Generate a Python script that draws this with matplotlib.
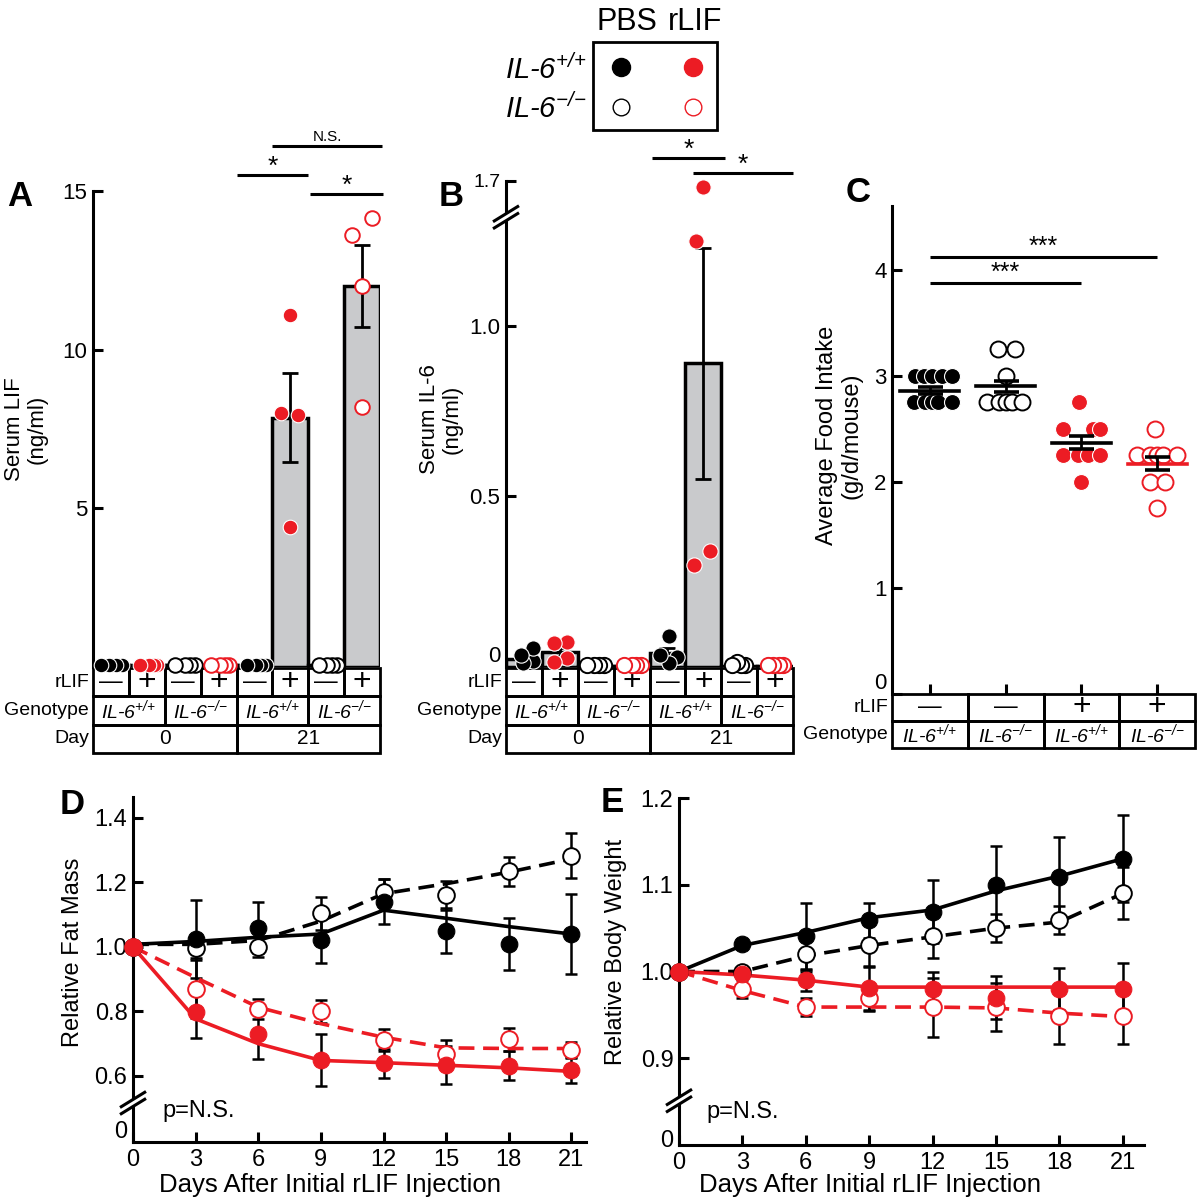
import numpy as np
import matplotlib.pyplot as plt
from matplotlib.patches import Rectangle, Polygon

plt.rcParams['font.family'] = ['Liberation Sans', 'DejaVu Sans']
plt.rcParams['mathtext.fontset'] = 'custom'
plt.rcParams['mathtext.rm'] = 'Liberation Sans:italic'
plt.rcParams['mathtext.it'] = 'Liberation Sans:italic'
plt.rcParams['mathtext.bf'] = 'Liberation Sans:bold'

W, H = 1197, 1200
RED = '#ec1c24'
GRAY = '#c9cacc'
LW = 2.2

# ================== DATA ==================
group_kind = ['wt_pbs', 'wt_lif', 'ko_pbs', 'ko_lif'] * 2
rlif_sign = ['-', '+', '-', '+', '-', '+', '-', '+']
geno_ab = ['+/+', '-/-', '+/+', '-/-']
day_ab = ['0', '21']

# A: serum LIF (ng/ml), 8 groups
a_vals = [[0.06] * 4, [0.06] * 4, [0.06] * 4, [0.06] * 4, [0.06] * 4,
          [11.1, 8.0, 7.95, 4.4], [0.06] * 4, [14.15, 13.6, 12.0, 8.2]]
a_jit = [[-0.28, -0.05, 0.14, 0.31], [-0.19, 0.05, 0.19, 0.28], [-0.22, 0.07, 0.21, 0.33],
         [-0.2, 0.03, 0.17, 0.29], [-0.2, 0.03, 0.17, 0.31], [0.0, -0.25, 0.22, 0.0],
         [-0.2, 0.03, 0.17, 0.31], [0.27, -0.27, 0.0, 0.0]]
a_mean = [0.06, 0.06, 0.06, 0.06, 0.06, 7.85, 0.06, 12.0]
a_sem = [0, 0, 0, 0, 0, 1.4, 0, 1.3]

# B: serum IL-6 (ng/ml), 8 groups (axis broken above 1.3)
b_vals = [[0.035, 0.056, 0.018, 0.012], [0.07, 0.073, 0.015, 0.026], [0.006] * 4, [0.006] * 4,
          [0.09, 0.035, 0.03, 0.012], [1.64, 1.25, 0.30, 0.34], [0.006, 0.015, 0.006, 0.006],
          [0.006] * 4]
b_jit = [[-0.07, 0.26, 0.26, -0.03], [-0.16, 0.21, -0.16, 0.21], [-0.25, -0.06, 0.08, 0.22],
         [-0.2, 0.0, 0.12, 0.26], [0.03, -0.2, 0.27, 0.05], [0.0, -0.2, -0.25, 0.2],
         [-0.2, -0.05, 0.04, 0.17], [-0.2, -0.05, 0.1, 0.22]]
b_mean = [0.022, 0.043, 0.003, 0.003, 0.04, 0.89, 0.003, 0.003]
b_sem = [0.01, 0.012, 0, 0, 0.017, 0.34, 0, 0]
B_BREAK, B_SQUEEZE = 1.3, 0.3125

# C: average food intake (g/d/mouse), 4 groups
c_kind = ['wt_pbs', 'ko_pbs', 'wt_lif', 'ko_lif']
c_rlif = ['-', '-', '+', '+']
c_geno = ['+/+', '-/-', '+/+', '-/-']
c_vals = [[3.0] * 5 + [2.75] * 5,
          [3.25, 3.25, 3.0] + [2.75] * 5,
          [2.75, 2.5, 2.5, 2.5, 2.25, 2.25, 2.25, 2.25, 2.0],
          [2.5, 2.25, 2.25, 2.25, 2.25, 2.25, 2.0, 2.0, 1.75]]
c_jit = [[-0.2, -0.08, 0.03, 0.16, 0.29, -0.21, -0.06, 0.03, 0.11, 0.29],
         [-0.1, 0.13, 0.01, -0.25, -0.09, 0.0, 0.08, 0.21],
         [-0.03, -0.24, 0.15, 0.24, -0.24, -0.04, 0.09, 0.24, 0.0],
         [-0.03, -0.27, -0.09, 0.0, 0.08, 0.26, -0.09, 0.11, 0.0]]
c_mean = [2.86, 2.90, 2.37, 2.17]
c_sem = [0.03, 0.05, 0.06, 0.06]

# D / E: time course
days = [0, 3, 6, 9, 12, 15, 18, 21]

d_wt_pbs = [1.0, 1.025, 1.06, 1.02, 1.14, 1.05, 1.01, 1.04]
d_wt_pbs_err = [0, 0.12, 0.08, 0.07, 0.07, 0.07, 0.08, 0.125]
d_wt_pbs_fit = [1.008, 1.017, 1.03, 1.04, 1.114, 1.089, 1.063, 1.04]
d_ko_pbs = [1.0, 0.997, 1.0, 1.104, 1.17, 1.16, 1.234, 1.283]
d_ko_pbs_err = [0, 0.03, 0.03, 0.05, 0.04, 0.045, 0.045, 0.07]
d_ko_pbs_fit = [1.008, 1.008, 1.02, 1.08, 1.165, 1.196, 1.232, 1.273]
d_wt_lif = [1.0, 0.798, 0.731, 0.649, 0.639, 0.634, 0.631, 0.619]
d_wt_lif_err = [0, 0.08, 0.08, 0.08, 0.045, 0.06, 0.045, 0.04]
d_wt_lif_fit = [1.0, 0.777, 0.70, 0.648, 0.641, 0.633, 0.625, 0.614]
d_ko_lif = [1.0, 0.869, 0.808, 0.80, 0.711, 0.667, 0.713, 0.68]
d_ko_lif_err = [0, 0.09, 0.03, 0.035, 0.035, 0.045, 0.035, 0.025]
d_ko_lif_fit = [1.0, 0.905, 0.813, 0.762, 0.72, 0.687, 0.685, 0.685]

e_wt_pbs = [1.0, 1.032, 1.041, 1.059, 1.069, 1.10, 1.109, 1.13]
e_wt_pbs_err = [0, 0.006, 0.038, 0.02, 0.036, 0.045, 0.046, 0.05]
e_wt_pbs_fit = [1.0, 1.03, 1.045, 1.062, 1.071, 1.093, 1.11, 1.13]
e_ko_pbs = [1.0, 1.0, 1.02, 1.03, 1.041, 1.05, 1.059, 1.09]
e_ko_pbs_err = [0, 0.005, 0.02, 0.025, 0.025, 0.016, 0.016, 0.03]
e_ko_pbs_fit = [1.0, 1.0, 1.018, 1.03, 1.04, 1.05, 1.057, 1.09]
e_wt_lif = [1.0, 0.997, 0.99, 0.981, 0.98, 0.97, 0.98, 0.98]
e_wt_lif_err = [0, 0.004, 0.012, 0.025, 0.02, 0.025, 0.024, 0.03]
e_wt_lif_fit = [1.0, 0.996, 0.99, 0.982, 0.982, 0.982, 0.982, 0.982]
e_ko_lif = [1.0, 0.98, 0.959, 0.97, 0.959, 0.959, 0.949, 0.949]
e_ko_lif_err = [0, 0.01, 0.01, 0.015, 0.034, 0.028, 0.033, 0.033]
e_ko_lif_fit = [1.0, 0.978, 0.959, 0.959, 0.959, 0.958, 0.952, 0.948]


# ================== HELPERS ==================
fig = plt.figure(figsize=(W / 100, H / 100), dpi=100)


def px_axes(x0, x1, y0, y1):
    # pixel box, origin top-left
    return fig.add_axes([x0 / W, 1 - y1 / H, (x1 - x0) / W, (y1 - y0) / H])


def mstyle(kind, ms, white_edge=True):
    color = RED if kind.endswith('lif') else 'black'
    if kind.startswith('wt'):
        return dict(marker='o', ms=ms, mfc=color, mec='white' if white_edge else color, mew=0.8)
    return dict(marker='o', ms=ms, mfc='white', mec=color, mew=1.4)


def geno_label(g):
    return 'IL-6$^{{%s}/{%s}}$' % (g[0], g[2])


SIGN = {'-': '\u2014', '+': '+'}
SIGN_FS = {'-': 17, '+': 23}


def draw_table(box, n, rows, labels):
    x0, x1, y0, y1 = box
    t = px_axes(x0, x1, y0, y1)
    t.set_xlim(0, n)
    t.set_ylim(len(rows), 0)
    t.axis('off')
    for r, cells in enumerate(rows):
        for s, e, txt, kw in cells:
            t.add_patch(Rectangle((s, r), e - s, 1, fill=False, lw=2, ec='black', clip_on=False))
            t.text((s + e) / 2, r + 0.5, txt, ha='center', va='center', clip_on=False, **kw)
        t.text(-4 / (x1 - x0), 1 - (r + 0.5) / len(rows), labels[r], transform=t.transAxes,
               ha='right', va='center', fontsize=14)
    return t


def style_axis(ax):
    for s in ['top', 'right', 'bottom']:
        ax.spines[s].set_visible(False)
    ax.spines['left'].set_linewidth(LW)
    ax.tick_params(axis='y', direction='in', length=7, width=LW, labelsize=16, pad=4)
    ax.set_xticks([])
    ax.patch.set_alpha(0)


def sig(ax, x0, x1, y, label, fs=19, dy=0.0):
    ax.plot([x0, x1], [y, y], color='black', lw=LW, clip_on=False, solid_capstyle='butt')
    ax.text((x0 + x1) / 2, y + dy, label, ha='center', va='baseline', fontsize=fs, clip_on=False)


def bar_panel(ax, vals, jit, mean, sem, ms, tf=lambda v: np.asarray(v, float)):
    n = len(vals)
    x = np.arange(n) + 0.5
    ax.bar(x, tf(mean), width=1.0, color=GRAY, edgecolor='black', linewidth=2.5, zorder=1)
    for i in range(n):
        if sem[i] > 0:
            lo = tf(mean[i]) - tf(mean[i] - sem[i])
            hi = tf(mean[i] + sem[i]) - tf(mean[i])
            ax.errorbar(x[i], tf(mean[i]), yerr=[[lo], [hi]], fmt='none', ecolor='black',
                        elinewidth=2, capsize=6, capthick=2, zorder=3)
        order = np.argsort(jit[i])[::-1]
        xs = x[i] + np.asarray(jit[i])[order]
        ys = tf(np.asarray(vals[i])[order])
        ax.plot(xs, ys, ls='none', zorder=4, clip_on=False, **mstyle(group_kind[i], ms))
    ax.set_xlim(0, n)


# ================== TABLES (under the bar panels) ==================
rows_ab = [
    [(i, i + 1, SIGN[s], dict(fontsize=SIGN_FS[s])) for i, s in enumerate(rlif_sign)],
    [(2 * i, 2 * i + 2, geno_label(g), dict(fontsize=14, style='italic')) for i, g in enumerate(geno_ab)],
    [(4 * i, 4 * i + 4, d, dict(fontsize=15)) for i, d in enumerate(day_ab)],
]
draw_table((93, 380, 668, 753), 8, rows_ab, ['rLIF', 'Genotype', 'Day'])
draw_table((506, 793, 668, 753), 8, rows_ab, ['rLIF', 'Genotype', 'Day'])
rows_c = [
    [(i, i + 1, SIGN[s], dict(fontsize=SIGN_FS[s])) for i, s in enumerate(c_rlif)],
    [(i, i + 1, geno_label(g), dict(fontsize=14, style='italic')) for i, g in enumerate(c_geno)],
]
draw_table((892, 1195, 694, 748), 4, rows_c, ['rLIF', 'Genotype'])

# ================== A ==================
axA = px_axes(93, 380, 191, 667)
style_axis(axA)
bar_panel(axA, a_vals, a_jit, a_mean, a_sem, ms=10.5)
axA.set_ylim(0, 15)
axA.set_yticks([5, 10, 15])
axA.set_ylabel('Serum LIF\n(ng/ml)', fontsize=16, linespacing=1.1)
axA.yaxis.set_label_coords((48 - 93) / 287, 0.5)
sig(axA, 4.0, 6.0, 15.5, '*', dy=0.05)
sig(axA, 5.0, 8.05, 16.42, 'N.S.', fs=11, dy=0.15)
sig(axA, 6.05, 8.08, 14.9, '*', dy=0.05)

# ================== B ==================
def b_tf(v):
    v = np.asarray(v, float)
    return np.where(v <= B_BREAK, v, B_BREAK + (v - B_BREAK) * B_SQUEEZE)


axB = px_axes(506, 793, 181, 667)
style_axis(axB)
bar_panel(axB, b_vals, b_jit, b_mean, b_sem, ms=11, tf=b_tf)
axB.set_ylim(0, float(b_tf(1.7)))
axB.set_yticks(b_tf([0, 0.5, 1.0, 1.7]))
axB.set_yticklabels(['0', '0.5', '1.0', '1.7'])
axB.get_yticklabels()[-1].set_fontsize(14)
axB.get_yticklabels()[0].set_verticalalignment('bottom')
axB.set_ylabel('Serum IL-6\n(ng/ml)', fontsize=16, linespacing=1.1)
axB.yaxis.set_label_coords((463 - 506) / 287, 0.51)
sig(axB, 4.07, 6.1, 1.493, '*', dy=0.003)
sig(axB, 5.2, 8.0, 1.449, '*', dy=0.003)

# ================== C ==================
axC = px_axes(892, 1195, 206, 694)
style_axis(axC)
axC.set_xlim(0, 4)
axC.set_ylim(0, 4.6)
axC.set_yticks([0, 1, 2, 3, 4])
axC.get_yticklabels()[0].set_verticalalignment('bottom')
xc = np.arange(4) + 0.5
axC.set_xticks(xc)
axC.tick_params(axis='x', direction='in', length=7, width=LW, labelbottom=False)
for i in range(4):
    axC.plot(xc[i] + np.asarray(c_jit[i]), c_vals[i], ls='none', zorder=3, clip_on=False,
             **mstyle(c_kind[i], 11.5))
    mcol = RED if c_kind[i] == 'ko_lif' else 'black'
    axC.plot([xc[i] - 0.39, xc[i] + 0.39], [c_mean[i]] * 2, color=mcol, lw=2.6, zorder=5)
    axC.errorbar(xc[i], c_mean[i], yerr=c_sem[i], fmt='none', ecolor='black', elinewidth=2,
                 capsize=9, capthick=2.6, zorder=5)
axC.set_ylabel('Average Food Intake\n(g/d/mouse)', fontsize=17, linespacing=1.1)
axC.yaxis.set_label_coords((862 - 892) / 303, 0.53)
sig(axC, 0.5, 2.5, 3.87, '***', fs=18, dy=0.03)
sig(axC, 0.5, 3.5, 4.12, '***', fs=18, dy=0.03)


# ================== D / E ==================
def course(ax, series):
    for vals, err, fit, kind, dashed in series:
        color = RED if kind.endswith('lif') else 'black'
        ax.errorbar(days, vals, yerr=err, fmt='none', ecolor='black', elinewidth=1.8,
                    capsize=4, capthick=1.8, zorder=2)
        if dashed:
            ax.plot(days, fit, color=color, lw=2.6, dashes=(4.4, 2.4), zorder=3)
        else:
            ax.plot(days, fit, color=color, lw=2.6, zorder=3)
    for vals, err, fit, kind, dashed in series:
        ax.plot(days, vals, ls='none', zorder=4, clip_on=False,
                **mstyle(kind, 12, white_edge=False))
    ax.spines['bottom'].set_visible(True)
    ax.spines['bottom'].set_linewidth(LW)
    ax.set_xticks(days)
    ax.tick_params(axis='x', direction='in', length=7, width=LW, labelsize=17, pad=5)
    ax.tick_params(axis='y', labelsize=17)


axD = px_axes(133, 586, 797, 1142)
style_axis(axD)
course(axD, [(d_ko_pbs, d_ko_pbs_err, d_ko_pbs_fit, 'ko_pbs', True),
             (d_wt_pbs, d_wt_pbs_err, d_wt_pbs_fit, 'wt_pbs', False),
             (d_ko_lif, d_ko_lif_err, d_ko_lif_fit, 'ko_lif', True),
             (d_wt_lif, d_wt_lif_err, d_wt_lif_fit, 'wt_lif', False)])
axD.set_xlim(0, 21.7)
axD.set_ylim(0.395, 1.465)
D_ZERO = 0.433
axD.set_yticks([D_ZERO, 0.6, 0.8, 1.0, 1.2, 1.4])
axD.set_yticklabels(['0', '0.6', '0.8', '1.0', '1.2', '1.4'])
axD.yaxis.get_major_ticks()[0].tick1line.set_visible(False)
axD.set_ylabel('Relative Fat Mass', fontsize=17)
axD.yaxis.set_label_coords((84 - 133) / 453, 0.55)
axD.set_xlabel('Days After Initial rLIF Injection', fontsize=18.5)
axD.xaxis.set_label_coords(0.435, (1142 - 1173) / 345)
axD.text(1.4, 0.49, 'p=N.S.', fontsize=17, va='center')

axE = px_axes(679, 1144, 798, 1145)
style_axis(axE)
course(axE, [(e_ko_pbs, e_ko_pbs_err, e_ko_pbs_fit, 'ko_pbs', True),
             (e_wt_pbs, e_wt_pbs_err, e_wt_pbs_fit, 'wt_pbs', False),
             (e_ko_lif, e_ko_lif_err, e_ko_lif_fit, 'ko_lif', True),
             (e_wt_lif, e_wt_lif_err, e_wt_lif_fit, 'wt_lif', False)])
axE.set_xlim(0, 22.0)
axE.set_ylim(0.80, 1.2)
E_ZERO = 0.808
axE.set_yticks([E_ZERO, 0.9, 1.0, 1.1, 1.2])
axE.set_yticklabels(['0', '0.9', '1.0', '1.1', '1.2'])
axE.yaxis.get_major_ticks()[0].tick1line.set_visible(False)
axE.set_ylabel('Relative Body Weight', fontsize=17)
axE.yaxis.set_label_coords((627 - 679) / 465, 0.556)
axE.set_xlabel('Days After Initial rLIF Injection', fontsize=18.5)
axE.xaxis.set_label_coords(0.41, (1145 - 1173) / 347)
axE.text(1.3, 0.838, 'p=N.S.', fontsize=17, va='center')

# ================== OVERLAY: letters, legend, axis breaks ==================
ov = fig.add_axes([0, 0, 1, 1])
ov.set_xlim(0, W)
ov.set_ylim(H, 0)
ov.axis('off')
ov.set_zorder(10)


def ypx(ax, y):
    return H - ax.transData.transform((0, y))[1]


def axis_break(ax, y, x_px):
    yc = ypx(ax, y)
    dx, dy, g = 13, 8, 3.5
    ov.add_patch(Polygon([(x_px - dx, yc + dy - g), (x_px + dx, yc - dy - g),
                          (x_px + dx, yc - dy + g), (x_px - dx, yc + dy + g)],
                         closed=True, fc='white', ec='none', zorder=1))
    for s in (-g, g):
        ov.plot([x_px - dx, x_px + dx], [yc + dy + s, yc - dy + s], color='black', lw=2.2,
                solid_capstyle='butt', zorder=2)


axis_break(axB, float(b_tf(1.36)), 506)
axis_break(axD, 0.516, 133)
axis_break(axE, 0.851, 679)

for lab, x, y in [('A', 20, 196), ('B', 451, 196), ('C', 858, 193), ('D', 72, 804), ('E', 612, 803)]:
    ov.text(x, y, lab, fontsize=25, fontweight='bold', ha='center', va='center')

# legend box
ov.add_patch(Rectangle((593, 42), 124, 88, fill=False, lw=2, ec='black'))
ov.text(627, 22, 'PBS', ha='center', va='center', fontsize=22)
ov.text(695, 22, 'rLIF', ha='center', va='center', fontsize=22)
for kind, x, y in [('wt_pbs', 621, 67), ('wt_lif', 693, 67), ('ko_pbs', 621, 107), ('ko_lif', 693, 107)]:
    st = mstyle(kind, 13 if kind.startswith('wt') else 12, white_edge=False)
    st['mew'] = 1.0
    ov.plot([x], [y], ls='none', **st)
ov.text(586, 70, geno_label('+/+'), ha='right', va='center', fontsize=21, style='italic')
ov.text(586, 109, geno_label('-/-'), ha='right', va='center', fontsize=21, style='italic')

fig.savefig('out.png', dpi=100)
